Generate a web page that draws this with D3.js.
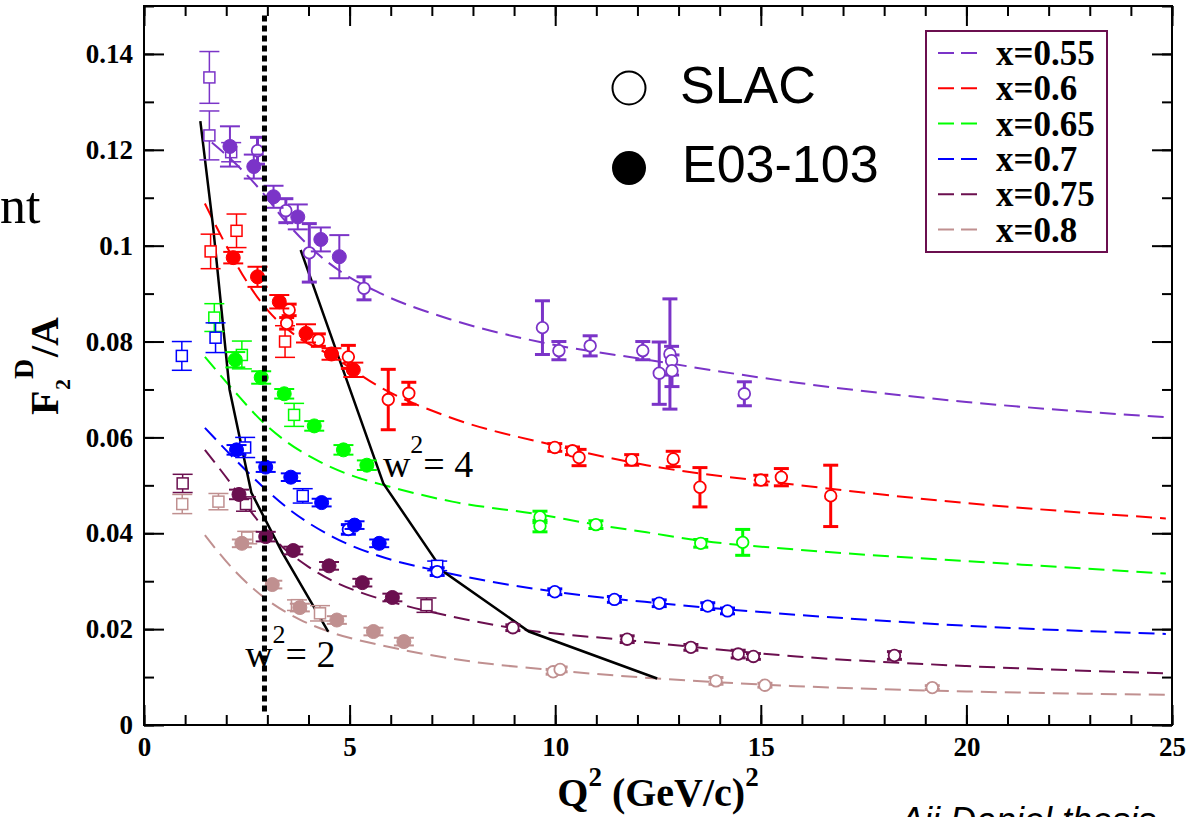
<!DOCTYPE html>
<html><head><meta charset="utf-8">
<script src="https://cdn.jsdelivr.net/npm/d3@7"></script>
<style>body{margin:0;background:#fff;overflow:hidden} svg{display:block}</style>
</head><body>
<svg id="chart" width="1196" height="817"></svg>
<script>
// ---------- data ----------
const xMajorTicks = [0, 5, 10, 15, 20, 25];
const xMinorTicks = d3.range(0, 26, 1);
const yMajorTicks = [0, 0.02, 0.04, 0.06, 0.08, 0.1, 0.12, 0.14];
const yMinorTicks = d3.range(0, 0.151, 0.01);
const yTickLabels = ["0", "0.02", "0.04", "0.06", "0.08", "0.1", "0.12", "0.14"];
const seriesNames = ["x=0.55", "x=0.6", "x=0.65", "x=0.7", "x=0.75", "x=0.8"];
const markerLegend = ["SLAC", "E03-103"];

// model curves [Q2, F2/A]
const curve055 = [[1.65,0.1215],[2.3,0.1165],[2.89,0.1110],[3.45,0.1050],[4.04,0.0997],[4.8,0.0945],[5.74,0.0901],[7.5,0.0845],[9.63,0.0799],[12.23,0.0762],[15.88,0.0714],[20,0.0674],[24.85,0.0642]];
const curve060 = [[1.48,0.1088],[2.0,0.1000],[2.5,0.0925],[3.0,0.0866],[3.6,0.0818],[4.6,0.0768],[5.74,0.0705],[7.5,0.0640],[9.95,0.0584],[12.22,0.0542],[15.87,0.0501],[20,0.0463],[24.85,0.0431]];
const curve065 = [[1.48,0.0768],[2.17,0.0699],[2.89,0.0632],[3.48,0.0590],[4.28,0.0549],[5.0,0.0522],[5.98,0.0497],[7.5,0.0466],[9.55,0.0440],[11,0.0418],[12.22,0.0402],[13.5,0.0385],[15.87,0.0366],[20,0.0342],[24.85,0.0316]];
const curve070 = [[1.48,0.0620],[2.17,0.0558],[2.98,0.0490],[3.5,0.0452],[4.6,0.0392],[5.74,0.0352],[7.12,0.0322],[10,0.0278],[12.53,0.0254],[15.87,0.0230],[20,0.0207],[24.85,0.0190]];
const curve075 = [[1.48,0.0574],[2.17,0.0497],[2.6,0.0445],[2.98,0.0405],[3.36,0.0372],[4.0,0.0330],[4.6,0.0300],[5.42,0.0272],[6.22,0.0252],[7.5,0.0226],[8.98,0.0202],[11.74,0.0177],[15.87,0.0143],[20,0.0123],[24.85,0.0108]];
const curve080 = [[1.48,0.0396],[2.17,0.0325],[2.98,0.0262],[3.79,0.0220],[4.6,0.0192],[5.74,0.0167],[6.22,0.0158],[8,0.0132],[10,0.0114],[12.47,0.0097],[15.87,0.0081],[20,0.0070],[24.85,0.0063]];

// data points [Q2, F2/A, error]
const sq055 = [[1.59,0.1351,0.0054],[1.59,0.1230,0.0051],[2.12,0.1195,0.0020]];
const e03_055 = [[2.09,0.1207,0.0042],[2.67,0.1165,0.0025],[3.15,0.1102,0.0023],[3.74,0.1060,0.0026],[4.30,0.1013,0.0025],[4.75,0.0977,0.0045]];
const slac055 = [[2.76,0.1198,0.0028],[3.45,0.1073,0.0025],[4.02,0.0985,0.0061],[5.35,0.0911,0.0024],[9.69,0.0829,0.0056],[10.09,0.0781,0.0019],[10.85,0.0791,0.0021],[12.13,0.0781,0.0019],[12.53,0.0734,0.0065],[12.79,0.0774,0.0115],[12.83,0.0760,0.0030],[12.84,0.0739,0.0033],[14.6,0.0691,0.0025]];

const sq060 = [[1.62,0.0988,0.0036],[2.25,0.1031,0.0035],[3.43,0.0800,0.0033]];
const e03_060 = [[2.17,0.0975,0.0012],[2.76,0.0935,0.0021],[3.29,0.0883,0.0014],[3.94,0.0817,0.0019],[4.56,0.0774,0.0012],[5.09,0.0741,0.0015]];
const slac060 = [[3.53,0.0866,0.0012],[3.47,0.0838,0.0012],[4.24,0.0803,0.0013],[4.97,0.0768,0.0024],[5.94,0.0679,0.0063],[6.44,0.0692,0.0023],[9.99,0.0579,0.0008],[10.42,0.0572,0.0008],[10.58,0.0558,0.0017],[11.86,0.0553,0.0011],[12.87,0.0555,0.0016],[13.52,0.0496,0.0041],[15.0,0.0511,0.0010],[15.5,0.0517,0.0018],[16.7,0.0478,0.0064]];

const sq065 = [[1.71,0.0850,0.0029],[2.38,0.0772,0.0029],[3.65,0.0647,0.0024]];
const e03_065 = [[2.22,0.0762,0.0016],[2.85,0.0725,0.0013],[3.41,0.0691,0.0010],[4.14,0.0624,0.0010],[4.85,0.0574,0.0010],[5.42,0.0542,0.0010]];
const slac065 = [[9.63,0.0434,0.0012],[9.63,0.0415,0.0012],[10.99,0.0418,0.0008],[13.54,0.0379,0.0008],[14.56,0.0381,0.0027]];

const sq070 = [[0.92,0.0770,0.0030],[1.74,0.0808,0.0031],[2.46,0.0579,0.0021],[3.86,0.0478,0.0015],[7.13,0.0332,0.0010]];
const e03_070 = [[2.25,0.0574,0.0010],[2.96,0.0538,0.0010],[3.57,0.0517,0.0008],[4.32,0.0464,0.0008],[5.12,0.0417,0.0008],[5.72,0.0379,0.0008]];
const slac070 = [[4.97,0.0408,0.0010],[7.13,0.0320,0.0008],[9.99,0.0278,0.0006],[11.44,0.0262,0.0006],[12.53,0.0254,0.0007],[13.71,0.0248,0.0007],[14.19,0.0238,0.0006]];

const sq075 = [[0.94,0.0504,0.0019],[2.48,0.0461,0.0015],[6.87,0.0250,0.0015]];
const e03_075 = [[2.31,0.0481,0.0010],[2.96,0.0393,0.0010],[3.63,0.0364,0.0008],[4.50,0.0332,0.0008],[5.31,0.0297,0.0008],[6.04,0.0266,0.0008]];
const slac075 = [[8.97,0.0203,0.0006],[11.75,0.0179,0.0007],[13.30,0.0162,0.0006],[14.45,0.0148,0.0008],[14.82,0.0143,0.0006],[18.25,0.0145,0.0008]];

const sq080 = [[0.93,0.0461,0.0020],[1.81,0.0466,0.0017],[2.51,0.0391,0.0013],[3.72,0.0250,0.0011],[4.28,0.0233,0.0016]];
const e03_080 = [[2.38,0.0379,0.0008],[3.12,0.0293,0.0008],[3.79,0.0245,0.0008],[4.69,0.0219,0.0008],[5.58,0.0195,0.0008],[6.32,0.0174,0.0008]];
const slac080 = [[9.95,0.0111,0.0005],[10.12,0.0116,0.0005],[13.91,0.0092,0.0007],[15.10,0.0083,0.0004],[19.17,0.0078,0.0004]];

// W^2 boundary lines
const w2Line2 = [[1.37,0.1260],[1.68,0.1040],[2.08,0.0700],[2.61,0.0485],[3.36,0.0360],[4.48,0.0195]];
const w2Line4 = [[3.81,0.0991],[4.68,0.0780],[5.82,0.0504],[7.28,0.0320],[9.36,0.0195],[12.48,0.0097]];
const cutQ2 = [2.93];
const cutRange = [0.002, 0.148];

// ---------- styling ----------
const colors = ["#7b34c8", "#ff0000", "#00ff00", "#0000ff", "#6b0f4f", "#c09090"];
const curves = [curve055, curve060, curve065, curve070, curve075, curve080];
const sqSets = [sq055, sq060, sq065, sq070, sq075, sq080];
const e03Sets = [e03_055, e03_060, e03_065, e03_070, e03_075, e03_080];
const slacSets = [slac055, slac060, slac065, slac070, slac075, slac080];

const svg = d3.select("#chart");
const L = 144, R = 1172, T = 6, B = 725;
const x = d3.scaleLinear().domain([0, 25]).range([L, R]);
const y = d3.scaleLinear().domain([0, 0.15]).range([B, T]);
const serif = "'Liberation Serif','Times New Roman',serif";
const sans = "'Liberation Sans',Arial,sans-serif";

svg.append("rect").attr("width", 1196).attr("height", 817).attr("fill", "#fff");

// axes with inward ticks
function styleAxis(g) {
  g.select(".domain").remove();
  g.selectAll(".tick line").attr("stroke", "#000").attr("stroke-width", 2);
}
const fmtY = d => yTickLabels[yMajorTicks.findIndex(v => Math.abs(v - d) < 1e-9)];

svg.append("g").attr("transform", `translate(0,${B})`)
  .call(d3.axisBottom(x).tickValues(xMinorTicks).tickSize(-10).tickFormat("")).call(styleAxis);
svg.append("g").attr("transform", `translate(0,${B})`)
  .call(d3.axisBottom(x).tickValues(xMajorTicks).tickSize(-20).tickPadding(12).tickFormat(d3.format("d")))
  .call(styleAxis)
  .call(g => g.selectAll("text").attr("font-family", serif).attr("font-weight", "bold").attr("font-size", 27).attr("fill", "#000"));
svg.append("g").attr("transform", `translate(0,${T})`)
  .call(d3.axisTop(x).tickValues(xMinorTicks).tickSize(-10).tickFormat("")).call(styleAxis);
svg.append("g").attr("transform", `translate(0,${T})`)
  .call(d3.axisTop(x).tickValues(xMajorTicks).tickSize(-20).tickFormat("")).call(styleAxis);

svg.append("g").attr("transform", `translate(${L},0)`)
  .call(d3.axisLeft(y).tickValues(yMinorTicks).tickSize(-10).tickFormat("")).call(styleAxis);
svg.append("g").attr("transform", `translate(${L},0)`)
  .call(d3.axisLeft(y).tickValues(yMajorTicks).tickSize(-20).tickPadding(11).tickFormat(fmtY))
  .call(styleAxis)
  .call(g => g.selectAll("text").attr("font-family", serif).attr("font-weight", "bold").attr("font-size", 27).attr("fill", "#000"));
svg.append("g").attr("transform", `translate(${R},0)`)
  .call(d3.axisRight(y).tickValues(yMinorTicks).tickSize(-10).tickFormat("")).call(styleAxis);
svg.append("g").attr("transform", `translate(${R},0)`)
  .call(d3.axisRight(y).tickValues(yMajorTicks).tickSize(-20).tickFormat("")).call(styleAxis);

svg.append("rect").attr("x", L).attr("y", T).attr("width", R - L).attr("height", B - T)
  .attr("fill", "none").attr("stroke", "#000").attr("stroke-width", 2);

// model curves
const line = d3.line().x(d => x(d[0])).y(d => y(d[1])).curve(d3.curveMonotoneX);
const plot = svg.append("g");
curves.forEach((c, i) => {
  plot.append("path").attr("d", line(c)).attr("fill", "none")
    .attr("stroke", colors[i]).attr("stroke-width", 2).attr("stroke-dasharray", "16,8");
});

// W^2 lines
const straight = d3.line().x(d => x(d[0])).y(d => y(d[1]));
[w2Line2, w2Line4].forEach(l => {
  plot.append("path").attr("d", straight(l)).attr("fill", "none").attr("stroke", "#000").attr("stroke-width", 2.5);
});

// error bars + markers
function errBars(data, color, width, cap) {
  const g = plot.append("g").attr("stroke", color).attr("stroke-width", width);
  data.forEach(d => {
    const cx = x(d[0]), y1 = y(d[1] - d[2]), y2 = y(d[1] + d[2]);
    g.append("line").attr("x1", cx).attr("x2", cx).attr("y1", y1).attr("y2", y2);
    g.append("line").attr("x1", cx - cap).attr("x2", cx + cap).attr("y1", y1).attr("y2", y1);
    g.append("line").attr("x1", cx - cap).attr("x2", cx + cap).attr("y1", y2).attr("y2", y2);
  });
}
for (let i = 0; i < 6; i++) {
  errBars(sqSets[i], colors[i], 1.5, 10);
  plot.append("g").selectAll("rect").data(sqSets[i]).join("rect")
    .attr("x", d => x(d[0]) - 5.5).attr("y", d => y(d[1]) - 5.5).attr("width", 11).attr("height", 11)
    .attr("fill", "#fff").attr("stroke", colors[i]).attr("stroke-width", 1.5);
}
for (let i = 0; i < 6; i++) {
  errBars(slacSets[i], colors[i], 3, 7.5);
  plot.append("g").selectAll("circle").data(slacSets[i]).join("circle")
    .attr("cx", d => x(d[0])).attr("cy", d => y(d[1])).attr("r", 5.8)
    .attr("fill", "#fff").attr("stroke", colors[i]).attr("stroke-width", 1.8);
}
for (let i = 0; i < 6; i++) {
  errBars(e03Sets[i], colors[i], 2, 10);
  plot.append("g").selectAll("circle").data(e03Sets[i]).join("circle")
    .attr("cx", d => x(d[0])).attr("cy", d => y(d[1])).attr("r", 7)
    .attr("fill", colors[i]).attr("stroke", colors[i]).attr("stroke-width", 1);
}

// vertical dotted cut line
plot.append("line").attr("x1", x(cutQ2[0])).attr("x2", x(cutQ2[0]))
  .attr("y1", y(cutRange[1])).attr("y2", y(cutRange[0]))
  .attr("stroke", "#000").attr("stroke-width", 5).attr("stroke-dasharray", "6,4");

// W^2 labels
function wLabel(q, f, val) {
  const t = svg.append("text").attr("x", x(q)).attr("y", y(f))
    .attr("font-family", serif).attr("font-size", 38).attr("fill", "#000");
  t.append("tspan").text("w");
  t.append("tspan").attr("font-size", 26).attr("dy", -24).text("2");
  t.append("tspan").attr("dy", 24).text("= " + val);
}
wLabel(2.46, 0.0121, "2");
wLabel(5.81, 0.0517, "4");

// marker legend
const mlx = 629;
svg.append("circle").attr("cx", mlx).attr("cy", 88).attr("r", 16.5).attr("fill", "#fff").attr("stroke", "#000").attr("stroke-width", 2);
svg.append("circle").attr("cx", mlx).attr("cy", 168).attr("r", 17).attr("fill", "#000");
svg.append("text").attr("x", 680).attr("y", 103).attr("font-family", sans).attr("font-size", 52).text(markerLegend[0]);
svg.append("text").attr("x", 682).attr("y", 182).attr("font-family", sans).attr("font-size", 52).text(markerLegend[1]);

// series legend
svg.append("rect").attr("x", 926).attr("y", 31).attr("width", 181).attr("height", 221)
  .attr("fill", "#fff").attr("stroke", "#6b0f4f").attr("stroke-width", 2);
seriesNames.forEach((n, i) => {
  const ly = 53 + i * 35.3;
  svg.append("line").attr("x1", 938).attr("x2", 978).attr("y1", ly).attr("y2", ly)
    .attr("stroke", colors[i]).attr("stroke-width", 2).attr("stroke-dasharray", "16,7");
  svg.append("text").attr("x", 996).attr("y", ly + 12).attr("font-family", serif)
    .attr("font-weight", "bold").attr("font-size", 35).attr("fill", "#000").text(n);
});

// axis titles
const xt = svg.append("text").attr("x", (L + R) / 2).attr("y", 806).attr("text-anchor", "middle")
  .attr("font-family", serif).attr("font-weight", "bold").attr("font-size", 40).attr("fill", "#000");
xt.append("tspan").text("Q");
xt.append("tspan").attr("font-size", 27).attr("dy", -20).text("2");
xt.append("tspan").attr("dy", 20).text(" (GeV/c)");
xt.append("tspan").attr("font-size", 27).attr("dy", -20).text("2");

const yt = svg.append("g").attr("transform", "translate(58,365) rotate(-90)")
  .attr("font-family", serif).attr("font-weight", "bold").attr("fill", "#000");
yt.append("text").attr("x", -50).attr("y", 0).attr("font-size", 40).text("F");
yt.append("text").attr("x", -25).attr("y", 12).attr("font-size", 22).text("2");
yt.append("text").attr("x", -14).attr("y", -25).attr("font-size", 28).text("D");
yt.append("text").attr("x", 8).attr("y", 0).attr("font-size", 40).text("/A");

// cut-off texts from the surrounding slide
svg.append("text").attr("x", 0).attr("y", 223)
  .attr("font-family", serif).attr("font-size", 52).attr("fill", "#000").text("nt");
svg.append("text").attr("x", 900).attr("y", 833).attr("font-family", sans)
  .attr("font-style", "italic").attr("font-size", 36).attr("fill", "#000").text("Aji Daniel thesis");
</script>
</body></html>
